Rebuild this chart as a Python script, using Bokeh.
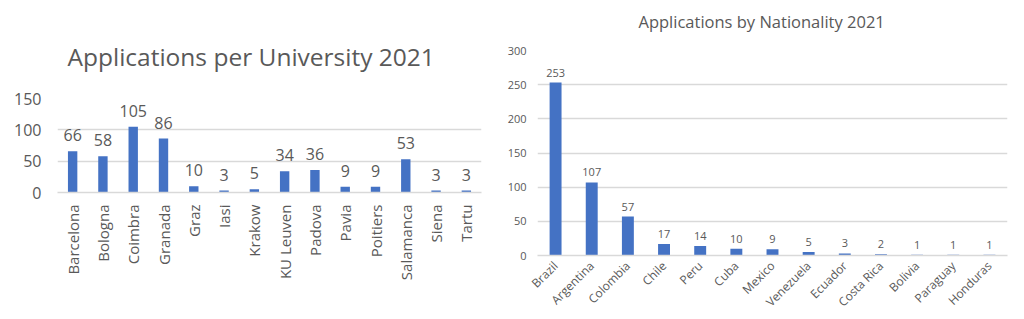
import math
from bokeh.plotting import figure
from bokeh.models import ColumnDataSource, FactorRange, Range1d, FixedTicker
from bokeh.layouts import row, column
from bokeh.embed import file_html
from bokeh.resources import INLINE
from bokeh.core.properties import value

# ---- data ----
universities = ["Barcelona", "Bologna", "Coimbra", "Granada", "Graz", "Iasi", "Krakow",
                "KU Leuven", "Padova", "Pavia", "Poitiers", "Salamanca", "Siena", "Tartu"]
uni_apps = [66, 58, 105, 86, 10, 3, 5, 34, 36, 9, 9, 53, 3, 3]
uni_ticks = [0, 50, 100, 150]

countries = ["Brazil", "Argentina", "Colombia", "Chile", "Peru", "Cuba", "Mexico",
             "Venezuela", "Ecuador", "Costa Rica", "Bolivia", "Paraguay", "Honduras"]
country_apps = [253, 107, 57, 17, 14, 10, 9, 5, 3, 2, 1, 1, 1]
country_ticks = [0, 50, 100, 150, 200, 250, 300]

FONT = "Open Sans"
TXT = "#595959"
BAR = "#4472C4"
GRID = "#D9D9D9"


def make_chart(cats, vals, ticks, title, width, height, borders, sizes, bar_w,
               orient, title_standoff, title_offset, title_valign,
               ylab_standoff, xlab_standoff, val_offset):
    src = ColumnDataSource(dict(cat=cats, val=vals, lab=[str(v) for v in vals]))
    p = figure(x_range=FactorRange(*cats, range_padding=0),
               y_range=Range1d(ticks[0], ticks[-1]),
               width=width, height=height, output_backend="svg",
               toolbar_location=None, title=title)
    p.min_border_left, p.min_border_right, p.min_border_top, p.min_border_bottom = borders
    p.outline_line_color = None
    p.background_fill_color = "white"
    p.border_fill_color = "white"

    p.title.align = "left"
    p.title.vertical_align = title_valign
    p.title.text_font = FONT
    p.title.text_font_size = f"{sizes[0]}px"
    p.title.text_font_style = "normal"
    p.title.text_color = TXT
    p.title.standoff = title_standoff
    p.title.offset = title_offset

    p.vbar(x="cat", top="val", width=bar_w, source=src, color=BAR, line_color=None)
    p.text(x="cat", y="val", text="lab", source=src, text_align="center",
           text_baseline="bottom", y_offset=val_offset,
           text_font=value(FONT), text_font_size=f"{sizes[3]}px", text_color=TXT)

    p.xgrid.grid_line_color = None
    p.ygrid.grid_line_color = GRID
    p.ygrid.grid_line_width = 1.5
    p.yaxis.ticker = FixedTicker(ticks=ticks)
    p.yaxis.axis_line_color = None
    p.yaxis.major_tick_line_color = None
    p.yaxis.minor_tick_line_color = None
    p.yaxis.major_tick_out = 0
    p.yaxis.major_label_standoff = ylab_standoff
    p.yaxis.major_label_text_font = FONT
    p.yaxis.major_label_text_font_size = f"{sizes[1]}px"
    p.yaxis.major_label_text_color = TXT

    p.xaxis.axis_line_color = GRID
    p.xaxis.axis_line_width = 1.5
    p.xaxis.major_tick_line_color = None
    p.xaxis.major_tick_out = 0
    p.xaxis.major_label_orientation = orient
    p.xaxis.major_label_standoff = xlab_standoff
    p.xaxis.major_label_text_font = FONT
    p.xaxis.major_label_text_font_size = f"{sizes[2]}px"
    p.xaxis.major_label_text_color = TXT
    return p


p1 = make_chart(universities, uni_apps, uni_ticks, "Applications per University 2021",
                500, 319, (57, 19, 98, 127), (24.5, 16, 15, 16), 0.31,
                math.pi / 2, 52, 10, "bottom", 16, 12, -10)
p2 = make_chart(countries, country_apps, country_ticks, "Applications by Nationality 2021",
                524, 329, (37, 17, 60, 63), (16.5, 11, 12, 11), 0.33,
                math.pi / 4, 32, 101, "top", 11, 8, -6)
p2.margin = (-10, 0, 0, 0)

layout = row(column(p1), column(p2))
open("out.html", "w").write(file_html(layout, INLINE))
